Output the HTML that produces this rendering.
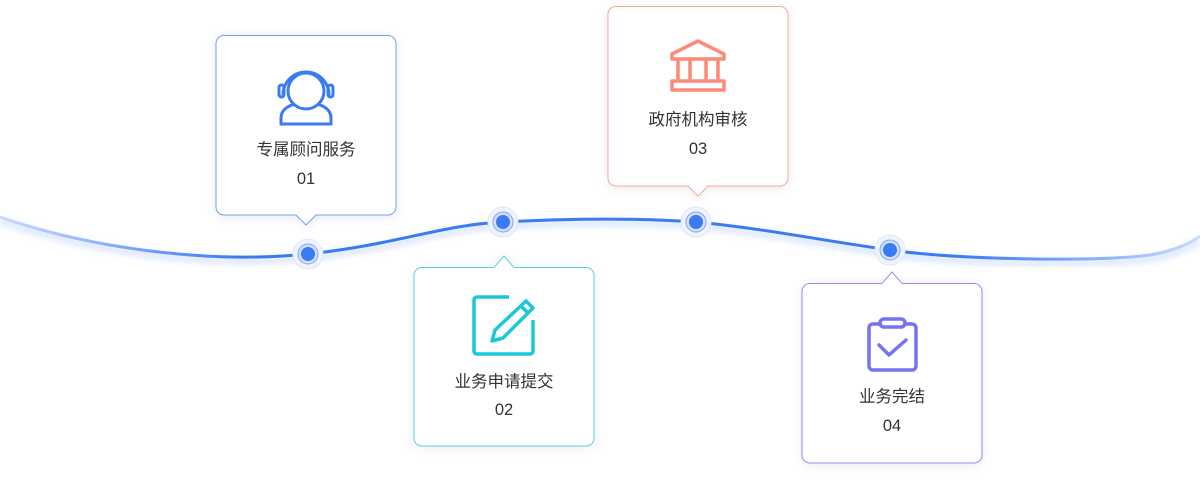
<!DOCTYPE html>
<html><head><meta charset="utf-8"><style>
html,body{margin:0;padding:0;background:#fff;width:1200px;height:487px;overflow:hidden}
text{font-family:"Liberation Sans","Noto Sans CJK SC",sans-serif;fill:#333;font-size:16.5px;text-anchor:middle}
</style></head><body>
<svg width="1200" height="487" viewBox="0 0 1200 487" xmlns="http://www.w3.org/2000/svg">
<defs>
<linearGradient id="lg" x1="0" x2="1200" y1="0" y2="0" gradientUnits="userSpaceOnUse">
<stop offset="0" stop-color="#c9dbfd"/><stop offset="0.2" stop-color="#3a7bf2"/><stop offset="0.8" stop-color="#3a7bf2"/><stop offset="1" stop-color="#c9dbfd"/>
</linearGradient>
<filter id="sh" x="-20%" y="-20%" width="140%" height="140%"><feDropShadow dx="0" dy="2" stdDeviation="5" flood-color="#000" flood-opacity="0.08"/></filter>
<filter id="bl"><feGaussianBlur stdDeviation="3"/></filter>
</defs>
<path d="M0,217 C80,245 200,265 308,254 C400,244 440,225 503,222 C580,218 640,218 696,222 C760,228 820,240 890,250 C960,260 1100,262 1150,255 C1180,250 1195,240 1200,236" fill="none" stroke="#dfe8fd" stroke-width="7" filter="url(#bl)" transform="translate(0,4)"/>
<path d="M0,217 C80,245 200,265 308,254 C400,244 440,225 503,222 C580,218 640,218 696,222 C760,228 820,240 890,250 C960,260 1100,262 1150,255 C1180,250 1195,240 1200,236" fill="none" stroke="url(#lg)" stroke-width="3"/>
<g>
<circle cx="308" cy="254" r="15" fill="#eef3fe" stroke="#dde7fd"/><circle cx="308" cy="254" r="10" fill="#d4e1fd" stroke="#7ea6f5"/><circle cx="308" cy="254" r="7" fill="#3a7bf2"/>
<circle cx="503" cy="222" r="15" fill="#eef3fe" stroke="#dde7fd"/><circle cx="503" cy="222" r="10" fill="#d4e1fd" stroke="#7ea6f5"/><circle cx="503" cy="222" r="7" fill="#3a7bf2"/>
<circle cx="696" cy="222" r="15" fill="#eef3fe" stroke="#dde7fd"/><circle cx="696" cy="222" r="10" fill="#d4e1fd" stroke="#7ea6f5"/><circle cx="696" cy="222" r="7" fill="#3a7bf2"/>
<circle cx="890" cy="250" r="15" fill="#eef3fe" stroke="#dde7fd"/><circle cx="890" cy="250" r="10" fill="#d4e1fd" stroke="#7ea6f5"/><circle cx="890" cy="250" r="7" fill="#3a7bf2"/>
</g>
<!-- box1 -->
<path d="M224,35.5 H388 a8,8 0 0 1 8,8 V207 a8,8 0 0 1 -8,8 H316 L306,225 L296,215 H224 a8,8 0 0 1 -8,-8 V43.5 a8,8 0 0 1 8,-8Z" fill="#fff" stroke="#6fa0f6" filter="url(#sh)"/>
<g fill="none" stroke="#3a7bf2" stroke-width="3">
<path d="M281,124 V118 C281,108 292,104 298,104 H314 C320,104 331,108 331,118 V124 Z"/>
<circle cx="306" cy="91" r="18" fill="#fff"/><path d="M283,95 a23,23 0 0 1 46,0"/><rect x="279" y="85" width="5" height="12" rx="2.5"/><rect x="328" y="85" width="5" height="12" rx="2.5"/>
</g>
<text x="306" y="155">专属顾问服务</text><text x="306" y="184">01</text>
<!-- box2 -->
<path d="M422,267.5 H494 L504,256 L514,267.5 H586 a8,8 0 0 1 8,8 V438 a8,8 0 0 1 -8,8 H422 a8,8 0 0 1 -8,-8 V275.5 a8,8 0 0 1 8,-8Z" fill="#fff" stroke="#52d3df" filter="url(#sh)"/>
<g fill="none" stroke="#1ac8d8" stroke-width="3.5" stroke-linejoin="round">
<path d="M509,297 H477 a3,3 0 0 0 -3,3 V351 a3,3 0 0 0 3,3 H530 a3,3 0 0 0 3,-3 V320"/>
<path d="M526,301 L533,308 L503,338 L492,341 L495,330 Z M521,306 L528,313"/>
</g>
<text x="504" y="387">业务申请提交</text><text x="504" y="415">02</text>
<!-- box3 -->
<path d="M616,6.5 H780 a8,8 0 0 1 8,8 V178 a8,8 0 0 1 -8,8 H708 L698,196 L688,186 H616 a8,8 0 0 1 -8,-8 V14.5 a8,8 0 0 1 8,-8Z" fill="#fff" stroke="#f9a89a" filter="url(#sh)"/>
<g fill="none" stroke="#fb8a76" stroke-width="3.5" stroke-linejoin="round">
<path d="M698,41 L672,54 V59 H724 V54 Z"/>
<path d="M678,59 V81 M690,59 V81 M706,59 V81 M718,59 V81"/>
<rect x="672" y="81" width="52" height="9"/>
</g>
<text x="698" y="125">政府机构审核</text><text x="698" y="154">03</text>
<!-- box4 -->
<path d="M810,283.5 H882 L892,272 L902,283.5 H974 a8,8 0 0 1 8,8 V455 a8,8 0 0 1 -8,8 H810 a8,8 0 0 1 -8,-8 V291.5 a8,8 0 0 1 8,-8Z" fill="#fff" stroke="#8f8ff8" filter="url(#sh)"/>
<g fill="none" stroke="#7473f2" stroke-width="3.5" stroke-linejoin="round" stroke-linecap="round">
<path d="M880,324 H873 a4,4 0 0 0 -4,4 V366 a4,4 0 0 0 4,4 H912 a4,4 0 0 0 4,-4 V328 a4,4 0 0 0 -4,-4 H905"/>
<rect x="880" y="319" width="25" height="8" rx="4"/>
<path d="M879,345 L889,355 L906,340"/>
</g>
<text x="892" y="402">业务完结</text><text x="892" y="431">04</text>
</svg>
</body></html>
